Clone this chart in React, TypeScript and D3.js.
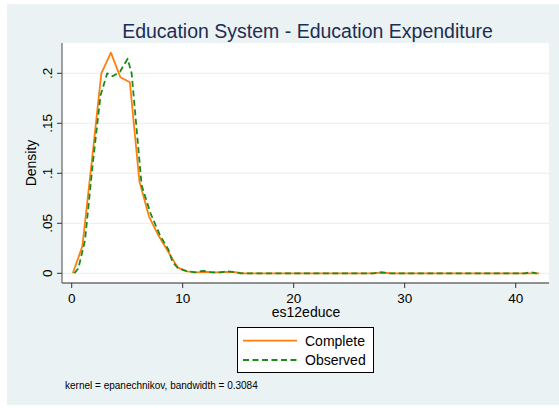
import React from "react";
import * as d3 from "d3";

const completeX = [0.10, 0.96, 1.81, 2.67, 3.53, 4.39, 5.24, 6.10, 6.96, 7.81, 8.67, 9.53, 10.39, 11.24, 12.10, 12.96, 13.81, 14.67, 15.53, 27.10, 27.96, 28.81, 41.24, 42.10];
const completeY = [0.0, 0.027, 0.112, 0.2, 0.2206, 0.196, 0.191, 0.092, 0.057, 0.038, 0.022, 0.006, 0.002, 0.001, 0.0015, 0.001, 0.0015, 0.0012, 0.0, 0.0, 0.0008, 0.0, 0.0, 0.0];

const observedX = [0.25, 0.6, 1.2, 1.9, 2.6, 3.2, 3.69, 4.35, 5.04, 5.4, 6.3, 7.1, 7.95, 8.7, 9.1, 9.6, 10.4, 11.1, 11.85, 12.6, 13.4, 14.1, 14.8, 15.2, 27.2, 27.9, 28.6, 40.8, 41.4, 41.9];
const observedY = [0.0, 0.005, 0.033, 0.11, 0.178, 0.2, 0.197, 0.2016, 0.2145, 0.2, 0.088, 0.06, 0.038, 0.024, 0.011, 0.005, 0.002, 0.001, 0.0025, 0.001, 0.001, 0.002, 0.001, 0.0, 0.0, 0.001, 0.0, 0.0, 0.001, 0.0];

const xTicks = [0, 10, 20, 30, 40];
const yTicks = [0, 0.05, 0.1, 0.15, 0.2];
const yTickLabels = ["0", ".05", ".1", ".15", ".2"];
const seriesNames = ["Complete", "Observed"];

const W = 559, H = 408;
const plotL = 62, plotR = 549, plotT = 43, plotB = 283;
const font = "'Liberation Sans', Arial, sans-serif";

export default function App() {
  const x = d3.scaleLinear().domain([-0.874, 43.0]).range([plotL, plotR]);
  const y = d3.scaleLinear().domain([-0.0097, 0.2303]).range([plotB, plotT]);
  const line = d3.line<[number, number]>().x(d => x(d[0])).y(d => y(d[1]));
  const cData = completeX.map((v, i) => [v, completeY[i]] as [number, number]);
  const oData = observedX.map((v, i) => [v, observedY[i]] as [number, number]);
  const orange = "#ff7f0e";
  const green = "#1a8a1a";
  return (
    <svg width={W} height={H} style={{ position: "absolute", left: 0, top: 0 }} fontFamily={font}>
      <rect x={0} y={0} width={W} height={H} fill="#ffffff" />
      <rect x={7} y={4} width={W - 7} height={401} fill="#eaf2f3" />
      <rect x={plotL} y={plotT} width={plotR - plotL} height={plotB - plotT} fill="#ffffff" />
      {yTicks.map((t, i) => (
        <line key={"g" + i} x1={plotL} x2={plotR} y1={y(t)} y2={y(t)} stroke="#eaf2f3" strokeWidth={1.2} />
      ))}
      <text x={(plotL + plotR) / 2 + 2} y={37.7} textAnchor="middle" fontSize={19.5} fill="#1e2d53">
        Education System - Education Expenditure
      </text>
      <path d={line(cData) || ""} fill="none" stroke={orange} strokeWidth={1.8} strokeLinejoin="round" />
      <path d={line(oData) || ""} fill="none" stroke={green} strokeWidth={1.8} strokeDasharray="6,3.5" strokeLinejoin="round" />
      <line x1={plotL} x2={plotL} y1={plotT} y2={plotB} stroke="#6e6e6e" strokeWidth={1.3} />
      <line x1={plotL} x2={plotR} y1={plotB} y2={plotB} stroke="#6e6e6e" strokeWidth={1.3} />
      {yTicks.map((t, i) => (
        <g key={"y" + i}>
          <line x1={plotL - 5} x2={plotL} y1={y(t)} y2={y(t)} stroke="#333" strokeWidth={1} />
          <text transform={`translate(${52},${y(t)}) rotate(-90)`} textAnchor="middle" fontSize={13.5} fill="#000">
            {yTickLabels[i]}
          </text>
        </g>
      ))}
      {xTicks.map((t, i) => (
        <g key={"x" + i}>
          <line x1={x(t)} x2={x(t)} y1={plotB} y2={plotB + 5} stroke="#333" strokeWidth={1} />
          <text x={x(t)} y={302.5} textAnchor="middle" fontSize={13.5} fill="#000">{t}</text>
        </g>
      ))}
      <text x={306} y={316.7} textAnchor="middle" fontSize={14} fill="#000">es12educe</text>
      <text transform={`translate(36,${(plotT + plotB) / 2}) rotate(-90)`} textAnchor="middle" fontSize={14} fill="#000">Density</text>
      <rect x={237.5} y={327.5} width={136} height={45} fill="#ffffff" stroke="#000" strokeWidth={1} />
      <line x1={243} x2={297} y1={340.7} y2={340.7} stroke={orange} strokeWidth={1.8} />
      <line x1={243} x2={297} y1={360} y2={360} stroke={green} strokeWidth={1.8} strokeDasharray="6,3.5" />
      <text x={305} y={345.7} fontSize={14} fill="#000">{seriesNames[0]}</text>
      <text x={305} y={365} fontSize={14} fill="#000">{seriesNames[1]}</text>
      <text x={65} y={389} fontSize={10} fill="#000">kernel = epanechnikov, bandwidth = 0.3084</text>
    </svg>
  );
}
